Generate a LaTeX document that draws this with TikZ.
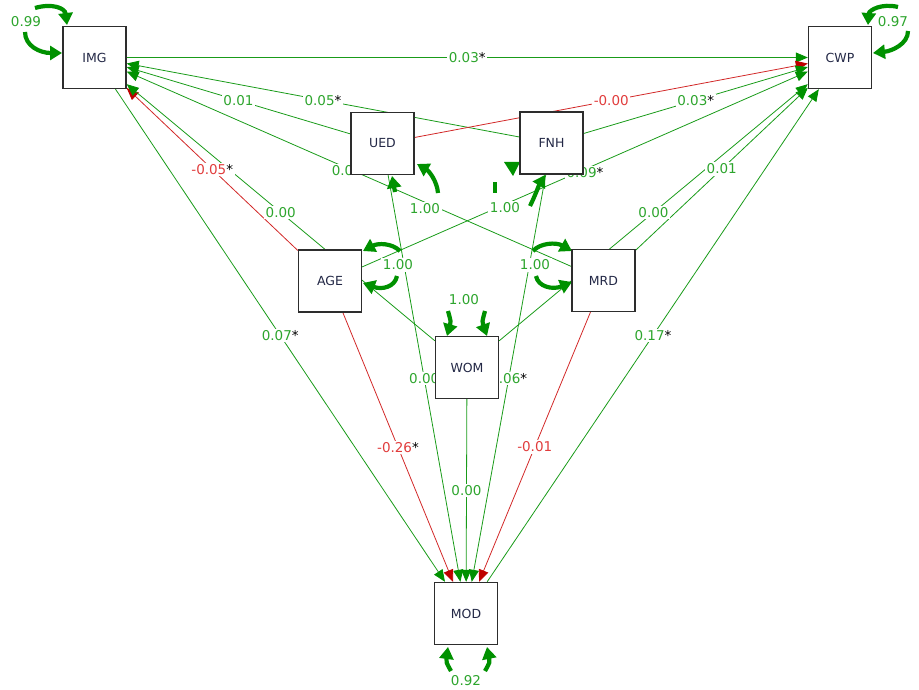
\documentclass[tikz,border=0pt]{standalone}
\usepackage{fontspec}
\setmainfont{DejaVu Sans}
\usetikzlibrary{arrows.meta}
\pgfdeclarelayer{bg}
\pgfdeclarelayer{fg}
\pgfsetlayers{bg,main,fg}
\definecolor{gline}{RGB}{25,155,25}
\definecolor{gtext}{RGB}{45,165,45}
\definecolor{rline}{RGB}{210,40,40}
\definecolor{rhead}{RGB}{190,0,0}
\definecolor{rtext}{RGB}{225,60,60}
\definecolor{gloop}{RGB}{0,145,0}
\definecolor{boxline}{RGB}{45,45,45}
\definecolor{boxtext}{RGB}{35,40,70}
\tikzset{
  semvar/.style={draw=boxline,line width=1.4pt,fill=white,minimum width=63pt,minimum height=62pt,inner sep=0pt,text=boxtext,font=\fontsize{12.5}{14}\selectfont},
  gpath/.style={draw=gline,line width=0.8pt,-{Triangle[length=12pt,width=10pt,color=gloop]}},
  rpath/.style={draw=rline,line width=0.8pt,-{Triangle[length=12pt,width=10pt,color=rhead]}},
  glab/.style={fill=white,inner sep=1.5pt,text=gtext,font=\fontsize{13.5}{15}\selectfont},
  rlab/.style={glab,text=rtext},
  loopar/.style={draw=gloop,line width=4.2pt,-{Triangle[length=12pt,width=14pt]}},
}
\newcommand\semstar{{\color{black}*}}
\newcommand\semedge[6]{%
  \begin{pgfonlayer}{bg}\path[#1] (#2) -- (#3) coordinate[midway] (m-#2-#3);\end{pgfonlayer}
  \node[#4,#6] (t-#2-#3) at (m-#2-#3) {#5};}
\begin{document}
\begin{tikzpicture}[x=1pt,y=-1pt]
\useasboundingbox (0,0) rectangle (919,690);
\begin{pgfonlayer}{fg}
\node[semvar] (IMG) at (94.5,57.5) {IMG};
\node[semvar] (CWP) at (840,57.5) {CWP};
\node[semvar] (UED) at (382.5,143.5) {UED};
\node[semvar] (FNH) at (551.5,143) {FNH};
\node[semvar] (AGE) at (330,281) {AGE};
\node[semvar] (MRD) at (603.5,280.5) {MRD};
\node[semvar] (WOM) at (467,367.5) {WOM};
\node[semvar] (MOD) at (466,613.5) {MOD};
\end{pgfonlayer}
% paths
\semedge{gpath}{IMG}{CWP}{glab}{0.03\semstar}{}
\semedge{gpath}{UED}{IMG}{glab}{0.01}{}
\semedge{gpath}{FNH}{IMG}{glab}{0.05\semstar}{}
\semedge{gpath}{MRD}{IMG}{glab}{0.0}{xshift=-6.5pt,yshift=-2pt}
\semedge{rpath}{AGE}{IMG}{rlab}{-0.05\semstar}{}
\semedge{gpath}{WOM}{IMG}{glab}{0.00}{}
\semedge{gpath}{IMG}{MOD}{glab}{0.07\semstar}{}
\semedge{rpath}{UED}{CWP}{rlab}{-0.00}{}
\semedge{gpath}{FNH}{CWP}{glab}{0.03\semstar}{}
\semedge{gpath}{AGE}{CWP}{glab}{0.09\semstar}{yshift=-3pt}
\semedge{gpath}{MRD}{CWP}{glab}{0.01}{}
\semedge{gpath}{WOM}{CWP}{glab}{0.00}{}
\semedge{gpath}{MOD}{CWP}{glab}{0.17\semstar}{}
\semedge{rpath}{AGE}{MOD}{rlab}{-0.26\semstar}{}
\semedge{gpath}{UED}{MOD}{glab}{0.00}{}
\semedge{gpath}{WOM}{MOD}{glab}{0.00}{}
\semedge{gpath}{FNH}{MOD}{glab}{0.06\semstar}{}
\semedge{rpath}{MRD}{MOD}{rlab}{-0.01}{}
% variance loops
\draw[loopar] (35,8) .. controls (52,3) and (65,8) .. (67,25);
\draw[loopar] (25,32) .. controls (25,46) and (40,53) .. (62,53);
\node[glab] (vIMG) at (26,22) {0.99};
\draw[loopar] (898,7) .. controls (882,3) and (869,10) .. (868,25);
\draw[loopar] (908,31) .. controls (908,44) and (892,51) .. (873,53);
\node[glab] (vCWP) at (893,22) {0.97};
\draw[loopar] (451,671) .. controls (446,662) .. (448,647);
\draw[loopar] (485,671) .. controls (490,662) .. (487,647);
\node[glab] (vMOD) at (466,681) {0.92};
\draw[loopar] (448,311) .. controls (451,322) .. (447,336);
\draw[loopar] (485,311) .. controls (482,322) .. (487,336);
\node[glab] (vWOM) at (464,300) {1.00};
\draw[loopar] (400,251) .. controls (392,243) and (378,243) .. (363,251);
\draw[loopar] (397,276) .. controls (395,287) and (382,290) .. (363,283);
\node[glab] (vAGE) at (398,265) {1.00};
\draw[loopar] (533,251) .. controls (540,243) and (556,242) .. (572,251);
\draw[loopar] (536,276) .. controls (538,287) and (553,290) .. (572,282);
\node[glab] (vMRD) at (535,265) {1.00};
\draw[loopar] (438,193) .. controls (437,181) and (429,171) .. (417,164);
\draw[loopar] (395,192) -- (392,176);
\node[glab] (vUED) at (425,209) {1.00};
\draw[gloop,line width=4.2pt] (495,193) -- (495,182);
\fill[gloop] (504,162) -- (520,162) -- (513,176) -- cycle;
\draw[loopar] (530,206) .. controls (535,196) and (539,185) .. (545,175);
\node[glab] (vFNH) at (505,208) {1.00};
\end{tikzpicture}
\end{document}
